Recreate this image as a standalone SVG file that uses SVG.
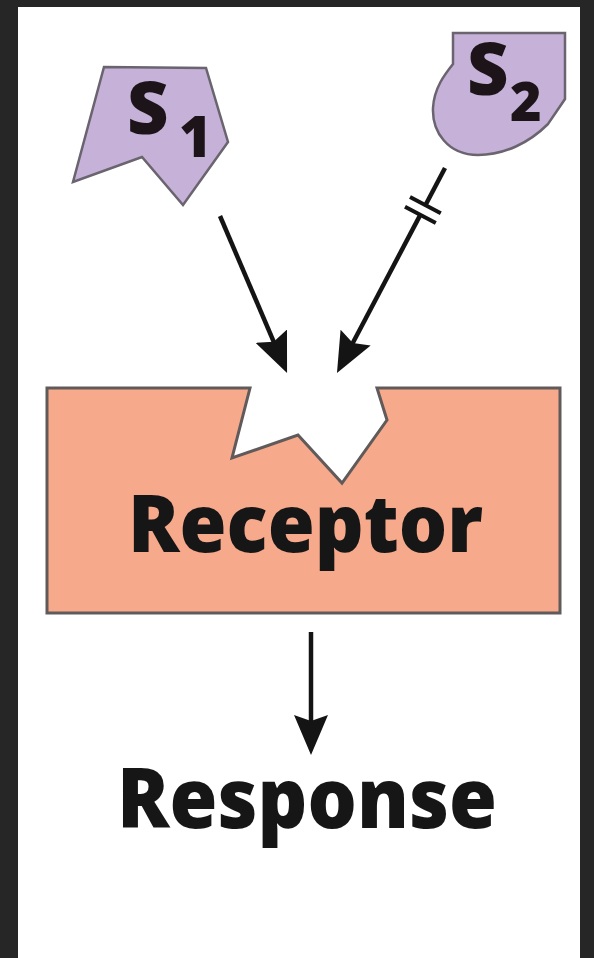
<svg xmlns="http://www.w3.org/2000/svg" width="594" height="958" viewBox="0 0 594 958">
  <style>
    .ligand { fill: #c6b1d8; stroke: #69646e; stroke-width: 2.5; stroke-linejoin: miter; }
    .sym { font-family: "Open Sans", "Liberation Sans", sans-serif; font-weight: 800; fill: #1c1418; }
    .big { font-family: "Open Sans", "Liberation Sans", sans-serif; font-weight: 800; fill: #161616; text-anchor: middle; }
    .conn { stroke: #141414; stroke-width: 4.5; fill: none; stroke-linecap: butt; }
    .bar { stroke: #141414; stroke-width: 4; fill: none; }
  </style>
  <defs>
    <marker id="head" viewBox="0 0 40 34" refX="20" refY="17" markerWidth="40" markerHeight="34" orient="auto" markerUnits="userSpaceOnUse">
      <path d="M0,0 L40,17 L0,34 L6,17 Z" fill="#141414"/>
    </marker>
  </defs>

  <!-- frame -->
  <rect x="0" y="0" width="594" height="958" fill="#262626"/>
  <rect x="18" y="7" width="562" height="951" fill="#ffffff"/>

  <!-- signal 1 -->
  <g id="s1">
    <polygon class="ligand" points="104,67 206,68 228,142 183,205 142,157 73,182"/>
    <text class="sym" x="127" y="134" font-size="72">S</text>
    <text class="sym" x="179" y="157" font-size="56">1</text>
  </g>

  <!-- signal 2 -->
  <g id="s2">
    <path class="ligand" d="M453,33 L565,33 L565,99 L548,124 C530,142 505,155 478,155 C448,155 432,132 433,108 C434,88 445,74 453,64 Z"/>
    <text class="sym" x="467" y="95" font-size="72">S</text>
    <text class="sym" x="510" y="121" font-size="54">2</text>
  </g>

  <!-- receptor with binding pocket -->
  <g id="receptor">
    <path d="M47,388 L250,388 L232,458 L298,435 L342,483 L387,420 L377,388 L560,388 L560,613 L47,613 Z" fill="#f6a98b" stroke="#605a5a" stroke-width="3"/>
    <text class="big" x="305.5" y="552" font-size="80" textLength="355" lengthAdjust="spacingAndGlyphs">Receptor</text>
  </g>

  <!-- response -->
  <g id="response">
    <text class="big" x="307" y="828" font-size="83" textLength="380" lengthAdjust="spacingAndGlyphs">Response</text>
  </g>

  <!-- connectors -->
  <g id="connectors">
    <!-- S1 binds -->
    <path class="conn" d="M220,216 L279.2,354.6" marker-end="url(#head)"/>
    <!-- S2 binds, with broken line -->
    <path class="conn" d="M445,168 L425.4,205.2"/>
    <path class="conn" d="M420.3,214.9 L346.3,355.3" marker-end="url(#head)"/>
    <line class="bar" x1="410" y1="197" x2="440.8" y2="213.2"/>
    <line class="bar" x1="405" y1="206.8" x2="435.8" y2="223"/>
    <!-- receptor to response -->
    <path class="conn" d="M311,632 L311,735" marker-end="url(#head)"/>
  </g>
</svg>
